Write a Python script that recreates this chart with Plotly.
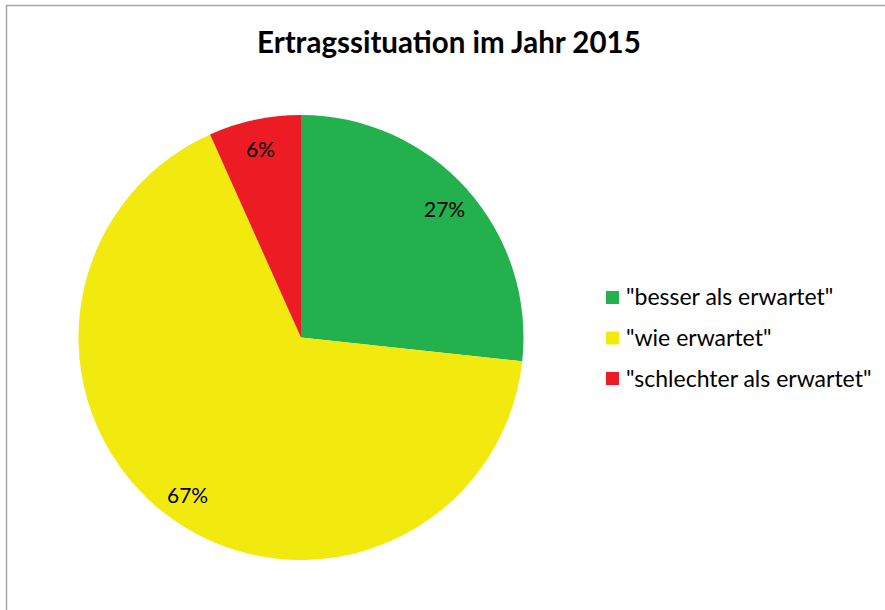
import math
import plotly.graph_objects as go

labels = ['"besser als erwartet"', '"wie erwartet"', '"schlechter als erwartet"']
values = [26.7, 66.6, 6.7]
pct_text = ["27%", "67%", "6%"]
colors = ['#22B14C', '#F2EA0E', '#ED1C24']
title = "Ertragssituation im Jahr 2015"

W, H = 885, 610
cx, cy, R = 301, 337.5, 222.5
FONT = "Lato"

fig = go.Figure()
fig.add_trace(go.Pie(
    labels=labels, values=values, sort=False, direction="clockwise", rotation=0,
    marker=dict(colors=colors, line=dict(width=0)),
    textinfo="none", hoverinfo="label+percent", showlegend=False,
    domain=dict(x=[(cx - R) / W, (cx + R) / W], y=[1 - (cy + R) / H, 1 - (cy - R) / H]),
))

annotations = []
total = sum(values)
cum = 0
for v, t in zip(values, pct_text):
    th = 2 * math.pi * (cum + v / 2) / total
    cum += v
    x = cx + 0.87 * R * math.sin(th)
    y = cy - 0.87 * R * math.cos(th)
    annotations.append(dict(x=x / W, y=1 - y / H, xref="paper", yref="paper",
                            xanchor="center", yanchor="middle",
                            text=t, showarrow=False,
                            font=dict(family=FONT, size=21, color="#000000")))

shapes = [dict(type="rect", xref="paper", yref="paper", x0=6.5 / W, x1=1.05,
               y0=-0.05, y1=1 - 5.5 / H, line=dict(color="#A6A6A6", width=1.5),
               fillcolor="rgba(0,0,0,0)")]

lx, ly0, dy, sq = 606, 297.5, 40.5, 13
for i, (lab, col) in enumerate(zip(labels, colors)):
    yc = ly0 + i * dy
    shapes.append(dict(type="rect", xref="paper", yref="paper",
                       x0=lx / W, x1=(lx + sq) / W, y0=1 - (yc + sq / 2) / H, y1=1 - (yc - sq / 2) / H,
                       fillcolor=col, line=dict(width=0)))
    annotations.append(dict(x=(lx + sq + 5) / W, y=1 - (yc - 1) / H, xref="paper", yref="paper",
                            xanchor="left", yanchor="middle", text=lab, showarrow=False,
                            font=dict(family=FONT, size=23, color="#000000")))

annotations.append(dict(x=449 / W, y=1 - 41 / H, xref="paper", yref="paper",
                        xanchor="center", yanchor="middle",
                        text=f"<b>{title}</b>", showarrow=False,
                        font=dict(family=FONT, size=29.5, color="#000000")))

fig.update_layout(
    width=W, height=H, margin=dict(l=0, r=0, t=0, b=0),
    paper_bgcolor="white", plot_bgcolor="white",
    annotations=annotations, shapes=shapes, showlegend=False,
)
fig.write_html("out.html", config={"displayModeBar": False},
               post_script="document.body.style.margin='0';")
